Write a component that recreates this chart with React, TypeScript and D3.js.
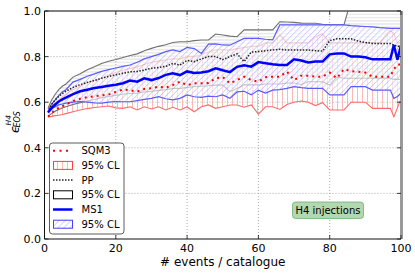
import * as d3 from "d3";

// number of events per catalogue (shared x for every series)
const events = [1, 2, 3, 4, 5, 6, 8, 10, 12, 14, 16, 18, 20, 22, 24, 26, 28, 30, 32, 34, 36, 38, 40, 42, 44, 46, 48, 50, 52, 54, 56, 58, 60, 62, 64, 66, 68, 70, 72, 74, 76, 78, 80, 82, 84, 86, 88, 90, 92, 94, 96, 97, 98, 99, 100];

const sqm3 = [0.536, 0.552, 0.566, 0.575, 0.582, 0.59, 0.605, 0.615, 0.622, 0.626, 0.63, 0.634, 0.645, 0.656, 0.652, 0.647, 0.658, 0.661, 0.668, 0.664, 0.675, 0.69, 0.675, 0.683, 0.683, 0.684, 0.705, 0.71, 0.683, 0.697, 0.712, 0.697, 0.69, 0.71, 0.712, 0.712, 0.734, 0.697, 0.716, 0.716, 0.712, 0.712, 0.73, 0.705, 0.745, 0.736, 0.734, 0.73, 0.712, 0.712, 0.712, 0.712, 0.745, 0.765, 0.765];
const sqm3Low = [0.535, 0.538, 0.541, 0.543, 0.546, 0.55, 0.558, 0.566, 0.572, 0.577, 0.58, 0.583, 0.575, 0.573, 0.58, 0.566, 0.58, 0.57, 0.58, 0.566, 0.578, 0.566, 0.579, 0.558, 0.58, 0.588, 0.573, 0.58, 0.588, 0.588, 0.578, 0.588, 0.548, 0.58, 0.58, 0.568, 0.59, 0.6, 0.605, 0.6, 0.585, 0.598, 0.566, 0.566, 0.566, 0.6, 0.6, 0.6, 0.573, 0.573, 0.573, 0.573, 0.536, 0.575, 0.615];
const sqm3High = [0.565, 0.58, 0.595, 0.61, 0.625, 0.635, 0.655, 0.67, 0.685, 0.695, 0.705, 0.72, 0.73, 0.74, 0.748, 0.755, 0.765, 0.775, 0.78, 0.785, 0.79, 0.79, 0.8, 0.8, 0.808, 0.82, 0.83, 0.83, 0.828, 0.835, 0.84, 0.845, 0.845, 0.86, 0.86, 0.895, 0.86, 0.86, 0.86, 0.86, 0.886, 0.9, 0.86, 0.86, 0.86, 0.86, 0.86, 0.86, 0.86, 0.86, 0.9, 0.915, 0.9, 0.86, 0.86];

const pp = [0.555, 0.59, 0.61, 0.625, 0.638, 0.648, 0.665, 0.677, 0.687, 0.695, 0.705, 0.713, 0.72, 0.727, 0.733, 0.735, 0.741, 0.749, 0.752, 0.757, 0.77, 0.763, 0.783, 0.778, 0.79, 0.8, 0.8, 0.787, 0.8, 0.812, 0.778, 0.82, 0.822, 0.826, 0.829, 0.832, 0.829, 0.829, 0.829, 0.829, 0.826, 0.824, 0.87, 0.878, 0.878, 0.878, 0.868, 0.862, 0.858, 0.858, 0.858, 0.858, 0.85, 0.845, 0.845];
const ppLow = [0.54, 0.55, 0.56, 0.568, 0.575, 0.58, 0.59, 0.598, 0.605, 0.612, 0.62, 0.625, 0.63, 0.635, 0.638, 0.64, 0.645, 0.648, 0.652, 0.655, 0.66, 0.66, 0.665, 0.668, 0.67, 0.672, 0.675, 0.675, 0.646, 0.66, 0.676, 0.676, 0.676, 0.68, 0.68, 0.68, 0.684, 0.684, 0.678, 0.69, 0.69, 0.69, 0.675, 0.71, 0.705, 0.705, 0.705, 0.705, 0.705, 0.705, 0.705, 0.705, 0.7, 0.7, 0.7];
const ppHigh = [0.575, 0.61, 0.635, 0.655, 0.67, 0.68, 0.71, 0.725, 0.742, 0.755, 0.77, 0.78, 0.787, 0.796, 0.805, 0.812, 0.826, 0.836, 0.845, 0.852, 0.862, 0.865, 0.865, 0.87, 0.873, 0.873, 0.899, 0.895, 0.89, 0.887, 0.917, 0.917, 0.917, 0.917, 0.917, 0.953, 0.952, 0.95, 0.947, 0.946, 0.946, 0.942, 0.939, 0.939, 0.939, 1.05, 1.05, 1.05, 1.05, 1.05, 1.05, 1.05, 1.05, 1.05, 1.05];

const ms1 = [0.556, 0.575, 0.59, 0.603, 0.612, 0.62, 0.635, 0.648, 0.655, 0.662, 0.667, 0.672, 0.677, 0.683, 0.695, 0.69, 0.705, 0.697, 0.706, 0.72, 0.727, 0.719, 0.735, 0.728, 0.73, 0.736, 0.749, 0.74, 0.732, 0.755, 0.762, 0.756, 0.776, 0.771, 0.766, 0.763, 0.763, 0.788, 0.783, 0.774, 0.778, 0.778, 0.81, 0.814, 0.814, 0.8, 0.8, 0.797, 0.788, 0.788, 0.788, 0.788, 0.851, 0.786, 0.851];
const ms1Low = [0.553, 0.57, 0.58, 0.588, 0.592, 0.596, 0.6, 0.603, 0.6, 0.597, 0.596, 0.6, 0.603, 0.602, 0.602, 0.607, 0.612, 0.617, 0.624, 0.615, 0.61, 0.617, 0.632, 0.624, 0.621, 0.627, 0.624, 0.632, 0.617, 0.645, 0.648, 0.632, 0.653, 0.64, 0.653, 0.655, 0.661, 0.668, 0.664, 0.661, 0.661, 0.661, 0.632, 0.632, 0.632, 0.668, 0.668, 0.668, 0.653, 0.653, 0.653, 0.653, 0.617, 0.625, 0.64];
const ms1High = [0.57, 0.59, 0.61, 0.63, 0.645, 0.655, 0.688, 0.7, 0.714, 0.724, 0.735, 0.743, 0.75, 0.757, 0.763, 0.775, 0.79, 0.8, 0.81, 0.822, 0.829, 0.822, 0.84, 0.835, 0.814, 0.855, 0.856, 0.851, 0.85, 0.865, 0.88, 0.88, 0.88, 0.876, 0.873, 0.939, 0.939, 0.939, 0.939, 0.939, 0.939, 0.939, 0.939, 0.939, 0.939, 0.936, 0.934, 0.932, 0.93, 0.927, 0.925, 0.924, 0.924, 0.924, 0.924];

const xTicks = [0, 20, 40, 60, 80, 100];
const yTicks = [0, 0.2, 0.4, 0.6, 0.8, 1.0];

const W = 415;
const H = 274;
const X0 = 44.5;
const X1 = 401;
const Y0 = 239;
const Y1 = 11;
const FONT = "DejaVu Sans, sans-serif";

export default function App() {
  const x = d3.scaleLinear().domain([0, 100]).range([X0, X1]);
  const y = d3.scaleLinear().domain([0, 1]).range([Y0, Y1]);

  const line = (vals: number[]) =>
    d3.line<number>().x((_, i) => x(events[i])).y((d) => y(d))(vals) || "";
  const band = (lo: number[], hi: number[]) =>
    d3.area<number>().x((_, i) => x(events[i])).y0((_, i) => y(lo[i])).y1((d) => y(d))(hi) || "";

  const legendRows = [150.7, 165.4, 180.1, 194.8, 209.5, 224.2];

  return (
    <svg width={W} height={H} style={{ position: "absolute", left: 0, top: 0, background: "#fff" }} fontFamily={FONT}>
      <defs>
        <clipPath id="plot">
          <rect x={X0} y={Y1} width={X1 - X0} height={Y0 - Y1} />
        </clipPath>
        <pattern id="hatchV" patternUnits="userSpaceOnUse" width={5} height={5}>
          <line x1={2.5} y1={0} x2={2.5} y2={5} stroke="#ff9a9a" strokeWidth={0.7} />
        </pattern>
        <pattern id="hatchH" patternUnits="userSpaceOnUse" width={5} height={3.2}>
          <line x1={0} y1={1.6} x2={5} y2={1.6} stroke="#c8c8c8" strokeWidth={0.7} />
        </pattern>
        <pattern id="hatchD" patternUnits="userSpaceOnUse" width={4.2} height={10} patternTransform="rotate(45)">
          <line x1={0} y1={0} x2={0} y2={10} stroke="#9090ff" strokeWidth={0.8} />
        </pattern>
      </defs>

      {/* grid */}
      {xTicks.slice(1, -1).map((t) => (
        <line key={"gx" + t} x1={x(t)} x2={x(t)} y1={Y0} y2={Y1} stroke="#888" strokeWidth={0.7} strokeDasharray="1,2" />
      ))}
      {yTicks.slice(1, -1).map((t) => (
        <line key={"gy" + t} x1={X0} x2={X1} y1={y(t)} y2={y(t)} stroke="#888" strokeWidth={0.7} strokeDasharray="1,2" />
      ))}

      <g clipPath="url(#plot)">
        {/* SQM3 95% CL */}
        <path d={band(sqm3Low, sqm3High)} fill="url(#hatchV)" />
        <path d={line(sqm3Low)} fill="none" stroke="#ff6a6a" strokeWidth={1.1} />
        <path d={line(sqm3High)} fill="none" stroke="#ff6a6a" strokeWidth={1.1} />

        {/* PP 95% CL */}
        <path d={band(ppLow, ppHigh)} fill="url(#hatchH)" />
        <path d={line(ppLow)} fill="none" stroke="#707070" strokeWidth={1.1} />
        <path d={line(ppHigh)} fill="none" stroke="#707070" strokeWidth={1.1} />

        {/* MS1 95% CL */}
        <path d={band(ms1Low, ms1High)} fill="#fff" fillOpacity={0.6} />
        <path d={band(ms1Low, ms1High)} fill="url(#hatchD)" />
        <path d={line(ms1Low)} fill="none" stroke="#5a5aff" strokeWidth={1.2} />
        <path d={line(ms1High)} fill="none" stroke="#5a5aff" strokeWidth={1.2} />

        {/* central values */}
        <path d={line(sqm3)} fill="none" stroke="#ff0000" strokeWidth={2} strokeDasharray="2,4" />
        <path d={line(pp)} fill="none" stroke="#222" strokeWidth={1.5} strokeDasharray="1.5,1.5" />
        <path d={line(ms1)} fill="none" stroke="#0000ff" strokeWidth={2.5} />
      </g>

      {/* spines */}
      <line x1={X0} x2={X1} y1={Y1} y2={Y1} stroke="#555" strokeWidth={1.5} />
      <line x1={X1 + 0.5} x2={X1 + 0.5} y1={Y1} y2={Y0} stroke="#9a9a9a" strokeWidth={3} />
      <line x1={X0} x2={X0} y1={Y1} y2={Y0} stroke="#111" strokeWidth={1} />
      <line x1={X0} x2={X1} y1={Y0} y2={Y0} stroke="#111" strokeWidth={1} />

      {/* ticks (inward) and labels */}
      {xTicks.map((t) => (
        <g key={"xt" + t}>
          <line x1={x(t)} x2={x(t)} y1={Y0} y2={Y0 - 4} stroke="#111" strokeWidth={0.8} />
          <line x1={x(t)} x2={x(t)} y1={Y1} y2={Y1 + 4} stroke="#111" strokeWidth={0.8} />
          <text x={x(t)} y={251.5} textAnchor="middle" fontSize={11} fill="#000">{t}</text>
        </g>
      ))}
      {yTicks.map((t) => (
        <g key={"yt" + t}>
          <line x1={X0} x2={X0 + 4} y1={y(t)} y2={y(t)} stroke="#111" strokeWidth={0.8} />
          <line x1={X1} x2={X1 - 4} y1={y(t)} y2={y(t)} stroke="#111" strokeWidth={0.8} />
          <text x={41} y={y(t) + 4} textAnchor="end" fontSize={11} fill="#000">{t.toFixed(1)}</text>
        </g>
      ))}

      {/* axis labels */}
      <text x={(X0 + X1) / 2} y={265.5} textAnchor="middle" fontSize={12} fill="#000"># events / catalogue</text>
      <g transform="translate(18.5,133) rotate(-90)" fill="#000">
        <text x={0} y={0} fontSize={12} fontStyle="italic">ϵ</text>
        <text x={5.5} y={1} fontSize={8} fontStyle="italic">EOS</text>
        <text x={7.5} y={-7.5} fontSize={7.5} fontStyle="italic">H4</text>
      </g>

      {/* legend */}
      <rect x={49.5} y={143} width={74.5} height={91} rx={3} fill="#fff" stroke="#333" strokeWidth={0.8} />
      <line x1={53} x2={72.5} y1={legendRows[0]} y2={legendRows[0]} stroke="#ff0000" strokeWidth={2} strokeDasharray="2,4.5" />
      <rect x={53.5} y={legendRows[1] - 4} width={19} height={8} fill="url(#hatchV)" stroke="#ff4040" strokeWidth={1} />
      <line x1={53} x2={72.5} y1={legendRows[2]} y2={legendRows[2]} stroke="#222" strokeWidth={1.5} strokeDasharray="1.5,1.5" />
      <rect x={53.5} y={legendRows[3] - 4} width={19} height={8} fill="#fff" stroke="#000" strokeWidth={1} />
      <line x1={53} x2={72.5} y1={legendRows[4]} y2={legendRows[4]} stroke="#0000ff" strokeWidth={2.5} />
      <rect x={53.5} y={legendRows[5] - 4} width={19} height={8} fill="url(#hatchD)" stroke="#4040ff" strokeWidth={1} />
      {["SQM3", "95% CL", "PP", "95% CL", "MS1", "95% CL"].map((s, i) => (
        <text key={"lg" + i} x={81.5} y={legendRows[i] + 3.6} fontSize={10} fill="#000">{s}</text>
      ))}

      {/* annotation */}
      <rect x={292.5} y={202} width={71} height={16.5} rx={3} fill="#b2d8b2" stroke="#6fae6f" strokeWidth={0.8} />
      <text x={328} y={213.8} textAnchor="middle" fontSize={10} fill="#000">H4 injections</text>
    </svg>
  );
}
